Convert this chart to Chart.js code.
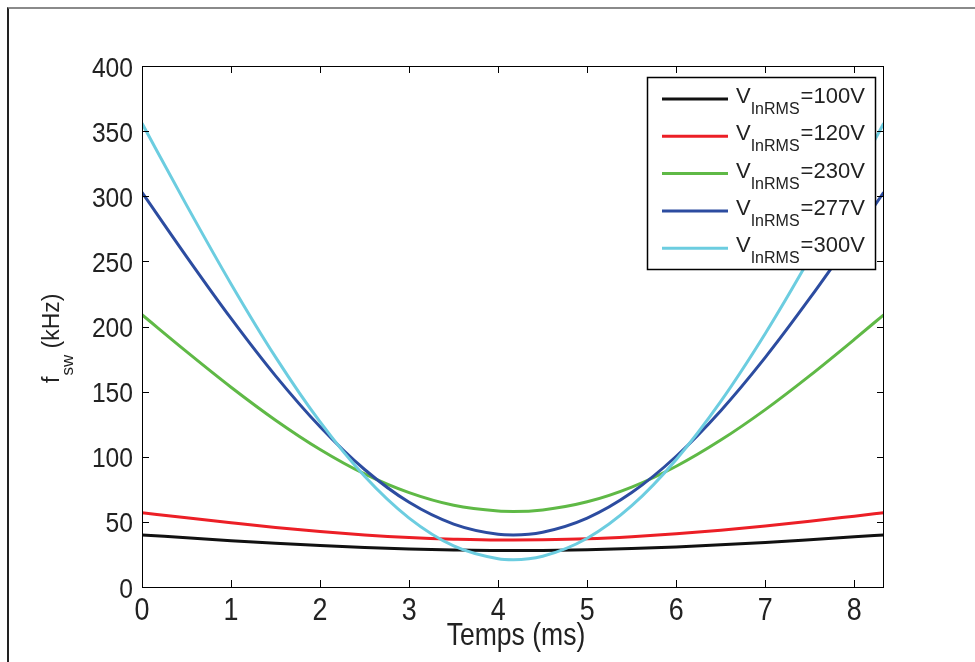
<!DOCTYPE html>
<html lang="fr">
<head>
<meta charset="UTF-8" />
<title>Fréquence de découpage</title>
<script src="https://cdn.jsdelivr.net/npm/chart.js@4.4.0/dist/chart.umd.min.js"></script>
<style>
  body { margin: 0; background: #fff; }
  .frame { position: relative; width: 975px; height: 662px; overflow: hidden; }
  .frame::before { content: ""; position: absolute; left: 7px; top: 7px; right: -10px; bottom: -10px;
    border-left: 2px solid #222; border-top: 2px solid #8a8a8a; }
  canvas { position: absolute; left: 0; top: 0; }
</style>
</head>
<body>
<div class="frame">
  <canvas id="fswChart" width="975" height="662"></canvas>
</div>

<script>
  // temps (ms) sur une demi-période secteur
  const times = [0, 0.5, 1, 1.5, 2, 2.5, 3, 3.5, 4, 4.17, 4.5, 5, 5.5, 6, 6.5, 7, 7.5, 8, 8.33];

  // f_sw (kHz)
  const f100 = [40, 37.8, 35.6, 33.6, 31.8, 30.3, 29.1, 28.4, 28.0, 28.0, 28.1, 28.6, 29.5, 30.8, 32.4, 34.2, 36.3, 38.5, 40];
  const f120 = [57, 53.1, 49.3, 45.7, 42.6, 40.0, 38.0, 36.7, 36.0, 36.0, 36.2, 37.0, 38.6, 40.8, 43.6, 46.9, 50.5, 54.4, 57];
  const f230 = [209, 180.7, 153.4, 128.1, 105.6, 86.8, 72.4, 62.7, 58.3, 58, 59.2, 65.4, 76.7, 92.7, 112.8, 136.2, 162.3, 190.1, 209];
  const f277 = [303, 253.7, 206.2, 162.1, 123.0, 90.2, 65.0, 48.3, 40.5, 40, 42.1, 52.9, 72.5, 100.4, 135.4, 176.3, 221.7, 270.0, 303];
  const f300 = [356, 293.2, 232.7, 176.5, 126.7, 85.0, 52.9, 31.5, 21.7, 21, 23.6, 37.4, 62.4, 97.9, 142.5, 194.6, 252.5, 314.0, 356];

  const labels = ['=100V', '=120V', '=230V', '=277V', '=300V'];
  const colors = ['#111111', '#ec1f26', '#5fb946', '#2c4ca0', '#6ccde0'];
  const series = [f100, f120, f230, f277, f300];

  const yTicks = [0, 50, 100, 150, 200, 250, 300, 350, 400];
  const xTicks = [0, 1, 2, 3, 4, 5, 6, 7, 8];

  const SANS = '"Liberation Sans", Arial, Helvetica, sans-serif';

  // texte resserré horizontalement, comme sur la figure d'origine
  function squeezed(ctx, txt, x, y, size, sx, align) {
    ctx.save();
    ctx.translate(x, y);
    ctx.scale(sx, 1);
    ctx.font = size + 'px ' + SANS;
    ctx.textAlign = align;
    ctx.textBaseline = 'alphabetic';
    ctx.fillText(txt, 0, 0);
    ctx.restore();
  }

  // cadre, graduations intérieures, étiquettes, titres et légende façon MATLAB
  const matlabLook = {
    id: 'matlabLook',
    afterDatasetsDraw(chart) {
      const { ctx, chartArea: a, scales } = chart;
      ctx.save();
      ctx.strokeStyle = '#000';
      ctx.lineWidth = 1;
      ctx.strokeRect(a.left + 0.5, a.top + 0.5, a.right - a.left - 1, a.bottom - a.top);
      ctx.beginPath();
      xTicks.forEach(v => {
        const x = Math.round(scales.x.getPixelForValue(v)) + 0.5;
        ctx.moveTo(x, a.bottom); ctx.lineTo(x, a.bottom - 7);
        ctx.moveTo(x, a.top); ctx.lineTo(x, a.top + 7);
      });
      yTicks.forEach(v => {
        const y = Math.round(scales.y.getPixelForValue(v)) + 0.5;
        ctx.moveTo(a.left, y); ctx.lineTo(a.left + 7, y);
        ctx.moveTo(a.right, y); ctx.lineTo(a.right - 7, y);
      });
      ctx.stroke();
      ctx.restore();
    },
    afterDraw(chart) {
      const { ctx, chartArea: a, scales } = chart;
      ctx.save();
      ctx.fillStyle = '#222';

      // étiquettes des graduations
      xTicks.forEach(v => squeezed(ctx, String(v), scales.x.getPixelForValue(v), a.bottom + 33, 32, 0.84, 'center'));
      yTicks.forEach(v => squeezed(ctx, String(v), a.left - 9, scales.y.getPixelForValue(v) + 10.5, 28, 0.88, 'right'));

      // titre axe x
      squeezed(ctx, 'Temps (ms)', (a.left + a.right) / 2 + 3, 645, 32, 0.83, 'center');

      // titre axe y : f_sw (kHz)
      ctx.textAlign = 'left';
      ctx.textBaseline = 'alphabetic';
      ctx.translate(59, 383);
      ctx.rotate(-Math.PI / 2);
      ctx.font = '23px ' + SANS;
      ctx.fillText('f', 0, 0);
      let w = ctx.measureText('f').width + 1;
      ctx.font = '17px ' + SANS;
      ctx.fillText('sw', w, 14);
      w += ctx.measureText('sw').width;
      ctx.font = '23px ' + SANS;
      ctx.fillText(' (kHz)', w, 0);
      ctx.restore();

      // légende
      ctx.save();
      ctx.fillStyle = '#fff';
      ctx.fillRect(647, 77, 229, 193);
      ctx.strokeStyle = '#000';
      ctx.lineWidth = 1.5;
      ctx.strokeRect(647.5, 77.5, 228, 192);
      chart.data.datasets.forEach((ds, i) => {
        const ly = 99 + i * 37.3;
        ctx.strokeStyle = ds.borderColor;
        ctx.lineWidth = 3;
        ctx.beginPath();
        ctx.moveTo(662, ly); ctx.lineTo(728, ly);
        ctx.stroke();
        ctx.fillStyle = '#222';
        ctx.font = '22px ' + SANS;
        ctx.fillText('V', 736, ly + 4);
        let x = 736 + ctx.measureText('V').width;
        ctx.font = '16px ' + SANS;
        ctx.fillText('InRMS', x, ly + 15);
        x += ctx.measureText('InRMS').width + 1;
        ctx.font = '22px ' + SANS;
        ctx.fillText(ds.label, x, ly + 4);
      });
      ctx.restore();
    }
  };

  new Chart(document.getElementById('fswChart'), {
    type: 'line',
    data: {
      datasets: series.map((s, i) => ({
        label: labels[i],
        data: times.map((t, k) => ({ x: t, y: s[k] })),
        borderColor: colors[i],
        borderWidth: 3,
        pointRadius: 0,
        fill: false,
        cubicInterpolationMode: 'monotone',
        order: series.length - 1 - i
      }))
    },
    options: {
      responsive: false,
      animation: false,
      events: [],
      layout: { padding: { top: 66, right: 91, left: 0, bottom: 0 } },
      plugins: { legend: { display: false }, tooltip: { enabled: false } },
      scales: {
        x: {
          type: 'linear',
          min: 0,
          max: 8.333,
          afterBuildTicks: scale => { scale.ticks = xTicks.map(v => ({ value: v })); },
          afterFit: scale => { scale.height = 75; },
          grid: { display: false, drawTicks: false },
          border: { display: false },
          ticks: { display: false }
        },
        y: {
          min: 0,
          max: 400,
          afterBuildTicks: scale => { scale.ticks = yTicks.map(v => ({ value: v })); },
          afterFit: scale => { scale.width = 142; },
          grid: { display: false, drawTicks: false },
          border: { display: false },
          ticks: { display: false }
        }
      }
    },
    plugins: [matlabLook]
  });
</script>
</body>
</html>
